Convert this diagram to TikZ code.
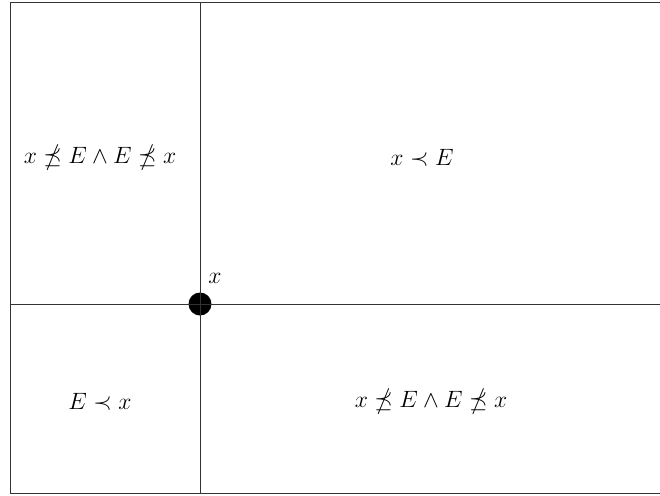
\documentclass[tikz,border=0pt]{standalone}
\usepackage{amsmath,amssymb}
\usepackage{tikz}
\usetikzlibrary{positioning}

\begin{document}
\begin{tikzpicture}[x=0.02cm, y=-0.02cm]
    % Styles
    \tikzstyle{region} = [font=\large, scale=1.12, align=center]
    \tikzstyle{axis} = [line width=0.4pt, draw=black!80]
    \tikzstyle{point} = [circle, fill=black, inner sep=0pt, minimum size=0.46cm]

    \useasboundingbox (0, 0) rectangle (660, 495);

    % Frame
    \coordinate (tl) at (10, 2);
    \coordinate (br) at (668, 493);
    \draw[axis] (tl) rectangle (br);

    % Axes through x
    \node[point] (pt) at (200, 304) {};
    \coordinate (top) at (200, 2);
    \coordinate (bot) at (200, 493);
    \coordinate (lft) at (10, 304);
    \coordinate (rgt) at (668, 304);
    \draw[axis] (top) -- (bot);
    \draw[axis] (lft) -- (rgt);
    \node[region] (lbl) at (215, 278) {$x$};

    % Regions
    \node[region] (ul) at (100, 158) {$x \npreceq E \wedge E \npreceq x$};
    \node[region] (ur) at (422, 158) {$x \prec E$};
    \node[region] (ll) at (100, 402) {$E \prec x$};
    \node[region] (lr) at (431, 402) {$x \npreceq E \wedge E \npreceq x$};
\end{tikzpicture}
\end{document}
